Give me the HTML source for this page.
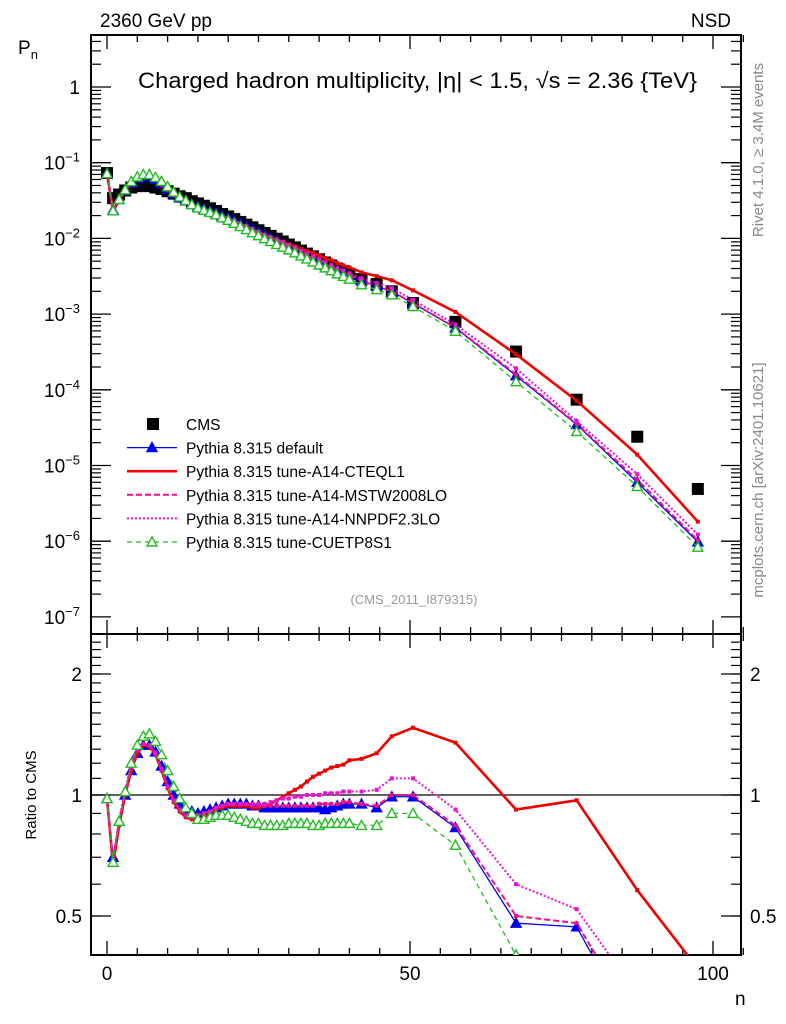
<!DOCTYPE html>
<html><head><meta charset="utf-8"><style>
html,body{margin:0;padding:0;background:#fff;width:786px;height:1024px;overflow:hidden;}
svg{display:block;font-family:"Liberation Sans",sans-serif;}
</style></head><body>
<svg id="c" width="786" height="1024" viewBox="0 0 786 1024">
<text x="100" y="27" font-size="19">2360 GeV pp</text>
<text x="731" y="27" font-size="19" text-anchor="end">NSD</text>
<text x="18" y="54" font-size="19">P<tspan font-size="13" dy="5">n</tspan></text>
<text x="138" y="88" font-size="22" textLength="559" lengthAdjust="spacingAndGlyphs">Charged hadron multiplicity, |η| &lt; 1.5, √s = 2.36 {TeV}</text>
<text x="414" y="604" font-size="13" fill="#999" text-anchor="middle">(CMS_2011_I879315)</text>
<text transform="translate(763,150) rotate(-90)" font-size="15" fill="#888" text-anchor="middle">Rivet 4.1.0, ≥ 3.4M events</text>
<text transform="translate(763,480) rotate(-90)" font-size="15" fill="#888" text-anchor="middle">mcplots.cern.ch [arXiv:2401.10621]</text>
<text transform="translate(36,795) rotate(-90)" font-size="15" text-anchor="middle">Ratio to CMS</text>
<text x="735" y="1005" font-size="19">n</text>
<defs>
<clipPath id="cm"><rect x="91" y="35" width="650" height="599"/></clipPath>
<clipPath id="cr"><rect x="91" y="634" width="650" height="321"/></clipPath>
</defs>
<g id="axes"></g>
<g id="main" clip-path="url(#cm)"></g>
<g id="ratio" clip-path="url(#cr)"></g>
<g id="legend"></g>
</svg>
<script>
const nBins=[0,1,2,3,4,5,6,7,8,9,10,11,12,13,14,15,16,17,18,19,20,21,22,23,24,25,26,27,28,29,30,31,32,33,34,35,36,37,38,39,40,42,44.5,47,50.5,57.5,67.5,77.5,87.5,97.5];
const cmsVals=[0.073,0.034,0.038,0.043,0.047,0.049,0.050,0.049,0.047,0.045,0.042,0.039,0.036,0.034,0.031,0.029,0.027,0.025,0.023,0.021,0.0195,0.018,0.0165,0.0152,0.014,0.0128,0.0118,0.0108,0.0099,0.0091,0.0083,0.0076,0.0069,0.0063,0.0058,0.0053,0.0048,0.0044,0.0040,0.0037,0.0034,0.0029,0.0025,0.0020,0.0014,0.00079,0.00032,0.000074,0.000024,0.0000049];
const rDefault=[0.98,0.70,0.86,1.0,1.15,1.27,1.33,1.33,1.28,1.18,1.08,1.0,0.95,0.92,0.91,0.90,0.91,0.92,0.93,0.94,0.95,0.95,0.95,0.95,0.94,0.94,0.93,0.93,0.93,0.93,0.93,0.93,0.93,0.93,0.93,0.93,0.92,0.93,0.94,0.95,0.95,0.95,0.93,0.99,0.99,0.83,0.48,0.47,0.25,0.2];
const rCteq=[0.98,0.67,0.84,1.0,1.15,1.27,1.33,1.32,1.26,1.15,1.04,0.96,0.91,0.88,0.87,0.87,0.88,0.90,0.92,0.93,0.94,0.94,0.94,0.94,0.93,0.93,0.94,0.95,0.97,0.99,1.01,1.03,1.05,1.08,1.11,1.13,1.15,1.17,1.18,1.19,1.22,1.23,1.27,1.40,1.47,1.35,0.92,0.97,0.58,0.37];
const rMstw=[0.98,0.69,0.86,1.01,1.17,1.29,1.34,1.33,1.27,1.16,1.05,0.97,0.92,0.89,0.88,0.89,0.90,0.91,0.93,0.94,0.95,0.95,0.95,0.95,0.94,0.94,0.94,0.94,0.94,0.94,0.94,0.94,0.94,0.94,0.94,0.95,0.95,0.95,0.95,0.96,0.96,0.95,0.94,1.0,1.0,0.84,0.50,0.48,0.27,0.21];
const rNnpdf=[0.98,0.69,0.87,1.03,1.20,1.30,1.34,1.33,1.27,1.16,1.05,0.97,0.92,0.89,0.88,0.89,0.90,0.91,0.93,0.94,0.95,0.95,0.95,0.95,0.95,0.95,0.95,0.96,0.97,0.98,0.98,0.99,0.99,1.0,1.0,1.0,1.01,1.01,1.01,1.02,1.02,1.02,1.03,1.10,1.10,0.92,0.60,0.52,0.32,0.25];
const rCuetp=[0.98,0.68,0.86,1.02,1.20,1.33,1.40,1.42,1.36,1.26,1.15,1.05,0.98,0.93,0.90,0.87,0.87,0.88,0.89,0.89,0.89,0.88,0.87,0.86,0.85,0.85,0.84,0.84,0.84,0.84,0.85,0.85,0.85,0.85,0.84,0.84,0.85,0.85,0.85,0.85,0.85,0.84,0.84,0.90,0.90,0.75,0.40,0.38,0.22,0.17];
const xTicks=[0,50,100];
const mainTicks=[0,-1,-2,-3,-4,-5,-6,-7];
const ratioTicks=[0.5,1,2];

const NS='http://www.w3.org/2000/svg';
const X=n=>107+n*6.06;
const Ym=v=>87-Math.log10(v)*75.7;
const Yr=v=>795-Math.log10(v)*402;
function el(p,t,a){const e=document.createElementNS(NS,t);for(const k in a)e.setAttribute(k,a[k]);p.appendChild(e);return e;}
const ax=document.getElementById('axes'),gm=document.getElementById('main'),gr=document.getElementById('ratio'),lg=document.getElementById('legend');
let f1=el(ax,'rect',{x:91,y:35,width:650,height:599,fill:'none',stroke:'#000','stroke-width':2});


let f2=el(ax,'rect',{x:91,y:634,width:650,height:321,fill:'none',stroke:'#000','stroke-width':2});


for(let n=0;n<=105;n+=5){const x=X(n);const maj=n%50==0;const L=maj?14:7;
 for(const [y0,d] of [[35,1],[634,-1],[634,1],[955,-1]]){el(ax,'line',{x1:x,x2:x,y1:y0,y2:y0+d*L,stroke:'#000','stroke-width':1.3});}}
xTicks.forEach(n=>{const t=el(ax,'text',{x:X(n),y:980,'font-size':19,'text-anchor':'middle'});t.textContent=n;

});
mainTicks.forEach(p=>{const y=Ym(Math.pow(10,p));
 for(const [x0,d] of [[91,1],[741,-1]]) el(ax,'line',{x1:x0,x2:x0+d*20,y1:y,y2:y,stroke:'#000','stroke-width':1.3});
 for(let m=2;m<=9;m++){const ym=Ym(m*Math.pow(10,p));if(ym<35)continue;for(const [x0,d] of [[91,1],[741,-1]]) el(ax,'line',{x1:x0,x2:x0+d*10,y1:ym,y2:ym,stroke:'#000','stroke-width':1.2});}
 const t=el(ax,'text',{x:80,y:y+7,'font-size':19,'text-anchor':'end'});
 if(p==0)t.textContent='1';else{t.textContent='10';const s=el(t,'tspan',{dy:-8,'font-size':13});s.textContent='\u2212'+(-p);}
 
 
});
for(let v=0.4;v<=2.5;v+=0.1){const y=Yr(v);if(y<634||y>955)continue;
 for(const [x0,d] of [[91,1],[741,-1]]) el(ax,'line',{x1:x0,x2:x0+d*10,y1:y,y2:y,stroke:'#000','stroke-width':1.2});}
ratioTicks.forEach(v=>{const y=Yr(v);for(const [x0,d] of [[91,1],[741,-1]]) el(ax,'line',{x1:x0,x2:x0+d*20,y1:y,y2:y,stroke:'#000','stroke-width':1.3});
 [[82,'end'],[750,'start']].forEach(([x,a])=>{const t=el(ax,'text',{x:x,y:y+7,'font-size':19,'text-anchor':a});t.textContent=v;

});});
let ref=el(gr,'line',{x1:91,x2:741,y1:Yr(1),y2:Yr(1),stroke:'#000','stroke-width':1.3});



function tri(g,x,y,c,fill,s){return el(g,'path',{d:`M${x},${y-s}L${x+s},${y+s*0.8}L${x-s},${y+s*0.8}Z`,fill:fill?c:'#fff',stroke:c,'stroke-width':1.4});}
const series=[
 {name:'pythia-default',r:rDefault,c:'#0000ee',dash:'',w:1.3,m:'tri-fill'},
 {name:'pythia-a14-cteql1',r:rCteq,c:'#ee0000',dash:'',w:2.6,m:'sq'},
 {name:'pythia-a14-mstw2008lo',r:rMstw,c:'#ee1188',dash:'6 3',w:2,m:'sq'},
 {name:'pythia-a14-nnpdf23lo',r:rNnpdf,c:'#ee11cc',dash:'2 2',w:2,m:'sq'},
 {name:'pythia-cuetp8s1',r:rCuetp,c:'#22bb22',dash:'5 4',w:1.3,m:'tri-open'}];
nBins.forEach((n,i)=>{const r=el(gm,'rect',{x:X(n)-6,y:Ym(cmsVals[i])-6,width:12,height:12,fill:'#000'});
 
 });
series.forEach(s=>{
 [[gm,(i)=>Ym(cmsVals[i]*s.r[i])],[gr,(i)=>Yr(s.r[i])]].forEach(([g,yf])=>{
  const pts=nBins.map((n,i)=>X(n)+','+yf(i)).join(' ');
  const pl=el(g,'polyline',{points:pts,fill:'none',stroke:s.c,'stroke-width':s.w,'stroke-dasharray':s.dash});
  
  
  nBins.forEach((n,i)=>{const x=X(n),y=yf(i);let mk;
   if(s.m=='sq')mk=el(g,'rect',{x:x-2,y:y-2,width:4,height:4,fill:s.c});
   else mk=tri(g,x,y,s.c,s.m=='tri-fill',5);
   
   });
 });
});
const labels=['CMS','Pythia 8.315 default','Pythia 8.315 tune-A14-CTEQL1','Pythia 8.315 tune-A14-MSTW2008LO','Pythia 8.315 tune-A14-NNPDF2.3LO','Pythia 8.315 tune-CUETP8S1'];
labels.forEach((lab,i)=>{const y=424+i*23.6;const g=el(lg,'g',{});
 
 
 if(i==0)el(g,'rect',{x:147,y:y-6,width:12,height:12,fill:'#000'});
 else{const s=series[i-1];el(g,'line',{x1:127,x2:177,y1:y,y2:y,stroke:s.c,'stroke-width':s.w,'stroke-dasharray':s.dash});
  if(s.m!='sq')tri(g,152,y,s.c,s.m=='tri-fill',5);}
 const t=el(g,'text',{x:186,y:y+6,'font-size':15.5});t.textContent=lab;});
</script>
</body></html>
